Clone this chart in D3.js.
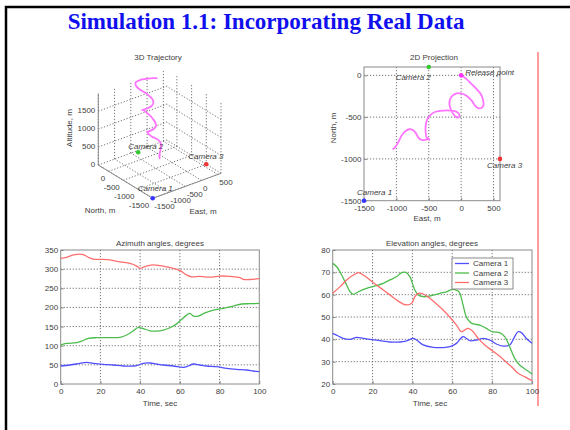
<!DOCTYPE html>
<html>
<head>
<meta charset="utf-8">
<script src="https://cdn.jsdelivr.net/npm/d3@7"></script>
<style>
  body { margin: 0; background: #fff; }
  svg { display: block; }
  text { font-family: "Liberation Sans", Arial, sans-serif; fill: #404040; }
  .grid { stroke: #505050; stroke-width: 0.8; stroke-dasharray: 1.2,1.8; fill: none; }
  .box { stroke: #8a8a8a; stroke-width: 1; fill: none; }
</style>
</head>
<body>
<div id="slide"></div>
<script>

// Cameras and release point (East / North in metres, altitude in metres)
const cameraNames = ["Camera 1", "Camera 2", "Camera 3"];
const cameraEast = [-1500, -500, 600];
const cameraNorth = [-1500, 100, -1000];
const cameraAlt = [0, 150, 0];
const cameraColors = ["#3535ff", "#35c835", "#ee3535"];
const releaseEast = 0;
const releaseNorth = 0;

const trackEast = [0, 88, 166, 243, 305, 336, 347, 321, 269, 217,
    166, 88, 10, -67, -129, -171, -181, -160, -119, -78,
    -41, -26, -52, -119, -222, -326, -404, -481, -522, -548,
    -548, -533, -491, -505, -540, -610, -662, -698, -740, -802,
    -869, -921, -973, -1024, -1060];
const trackNorth = [0, -48, -107, -167, -227, -287, -346, -386, -394, -366,
    -306, -247, -219, -215, -239, -287, -346, -406, -466, -497,
    -505, -478, -446, -426, -418, -426, -438, -478, -525, -605,
    -684, -744, -772, -755, -770, -772, -744, -692, -657, -645,
    -673, -724, -804, -864, -883];
const trackAlt = [2100, 2070, 2040, 2010, 1980, 1950, 1930, 1905, 1860, 1810,
    1755, 1700, 1655, 1620, 1590, 1560, 1530, 1490, 1455, 1425,
    1400, 1385, 1365, 1330, 1295, 1260, 1225, 1195, 1180, 1165,
    1145, 1130, 1110, 1100, 1085, 1065, 1035, 1005, 975, 940,
    897, 850, 780, 715, 670];

// Azimuth angles [time s, degrees]
const azimuthCam1 = [[0,47],[4.7,49.6],[9.7,54],[13.1,56.6],[16.4,54],[21.5,51.3],[26.5,49.6],[31.5,47],
    [36.6,47],[39.1,49.6],[41.6,54],[45,54.8],[48.3,52.2],[51.7,49.6],[56.7,47],[61.8,43.5],[64.3,47],
    [66.8,52.2],[70.1,49.6],[73.5,47],[78.5,45.3],[83.6,40.9],[88.6,38.3],[93.6,36.6],[97,34],[100,32.2]];
const azimuthCam2 = [[0,101.8],[3,106],[8.1,108],[10.6,112],[13.9,119],[18.1,121],[24.8,121],[29.9,122],
    [33.2,128],[36.6,139],[39.1,148],[41.6,144.5],[45,139],[48.3,138],[51.7,141],[55,147],[58.4,157],
    [60.9,169],[63.4,180],[65.1,184.5],[66.8,177.5],[69.3,177.5],[72.7,186],[76.9,193],[81.9,197.5],
    [86.9,203.6],[91.1,209],[95.3,209.7],[100,210.6]];
const azimuthCam3 = [[0,328],[3,331],[6.4,337],[9.7,339],[11.4,338],[13.9,331],[16.4,326],[20.6,325.5],
    [24.8,324],[29.9,319],[34.9,315],[38.3,308],[40,302],[41.6,305],[44.1,309],[46.6,311],[50,309],
    [53.4,306],[56.7,302],[60.1,296],[63.4,285],[65.9,280],[70.1,281],[75.2,279],[80.2,282],[85.2,281],
    [90.3,278],[92,273],[95.3,273],[100,275]];

// Elevation angles [time s, degrees]
const elevationCam1 = [[0,42.7],[2.8,41.5],[5.3,40.4],[8.7,40],[12,40.9],[15.4,40.4],[18.7,40],[23.7,39.4],
    [28.7,38.8],[33.7,38.8],[37.1,39.3],[40.4,40.4],[42.1,39.7],[45.4,37.5],[50.4,36.4],[55.4,36.3],
    [58.8,36.7],[62.1,38.2],[65.4,41.2],[68.8,39.4],[72.1,39.7],[75.5,40.4],[78.8,39.7],[82.1,37.9],
    [85.5,37],[88.8,37.5],[91.3,41.2],[93,43.4],[94.7,43],[97.2,40.4],[100,38.2]];
const elevationCam2 = [[0,74],[2,72.5],[4.5,68.8],[7,64.3],[8.7,61.3],[10.4,60.1],[12.9,61.3],[17,62.8],
    [21.2,63.9],[25.4,65.1],[28.7,66.6],[32.1,68.1],[34.6,69.9],[36.7,70],[38.7,68.1],[41.2,62.1],
    [42.9,59.9],[45.4,59.1],[48.7,59.4],[53.8,60.6],[57.1,61.3],[60.4,62.4],[62.9,61.6],[63.8,60.6],
    [65.4,55.4],[67.1,49.9],[68.8,47.9],[70.5,46.9],[73.8,46.4],[77.1,44.9],[80,43.4],[83.8,43],
    [86.3,41.2],[88.8,36.7],[91.3,31.5],[93.8,28.5],[97.2,26.3],[100,24.5]];
const elevationCam3 = [[0,60.6],[3.7,63.6],[7,66.6],[10.4,68.8],[12.9,69.9],[15.4,68.8],[18.7,66.6],
    [22,64.3],[25.4,62.1],[28.7,59.9],[32.1,57.6],[35.4,55.8],[37.1,55.4],[39.6,56.1],[41.2,59.1],
    [42.9,60.6],[45.4,60.3],[48.7,58.4],[52.1,55.8],[55.4,53.1],[58.8,49.9],[62.1,46.4],[64.6,43.4],
    [66.3,44.2],[67.9,44.9],[70.5,43.4],[73,40.4],[76.3,37.5],[79.6,35.2],[83,33],[86.3,30.4],
    [89.6,27.8],[93,24.8],[96.3,23.3],[100,21.5]];

// Tick values
const timeTicks = [0, 20, 40, 60, 80, 100];
const azimuthTicks = [0, 50, 100, 150, 200, 250, 300, 350];
const elevationTicks = [20, 30, 40, 50, 60, 70, 80];
const eastTicks = [-1500, -1000, -500, 0, 500];
const northTicks = [-1500, -1000, -500, 0];
const altTicks = [0, 500, 1000, 1500];

const lineColors = ["#5050ff", "#4cbc4c", "#ff6e6e"];

const svg = d3.select("#slide")
    .append("svg")
    .attr("width", 570)
    .attr("height", 430);

// Slide frame and the red margin line
svg.append("path")
    .attr("d", "M6,440 V7 H580")
    .attr("fill", "none")
    .attr("stroke", "#000")
    .attr("stroke-width", 2.5);

svg.append("line")
    .attr("x1", 538).attr("x2", 538)
    .attr("y1", 52).attr("y2", 406)
    .attr("stroke", "#ff7a7a")
    .attr("stroke-width", 1.5);

svg.append("text")
    .attr("x", 266)
    .attr("y", 29)
    .attr("text-anchor", "middle")
    .style("font-family", "'Liberation Serif', 'Times New Roman', serif")
    .style("font-weight", "bold")
    .style("font-size", "23px")
    .style("fill", "#1010ee")
    .text("Simulation 1.1: Incorporating Real Data");

// Draw a MATLAB-style 2D axes box with dotted grid
function drawPanel(x, y, xTicks, yTicks) {
    const g = svg.append("g");
    const [left, right] = x.range();
    const [bottom, top] = y.range();

    g.selectAll(".vgrid")
        .data(xTicks.filter(t => x(t) > left + 1 && x(t) < right - 1))
        .join("line")
        .attr("class", "grid")
        .attr("x1", d => x(d)).attr("x2", d => x(d))
        .attr("y1", top).attr("y2", bottom);

    g.selectAll(".hgrid")
        .data(yTicks.filter(t => y(t) < bottom - 1 && y(t) > top + 1))
        .join("line")
        .attr("class", "grid")
        .attr("x1", left).attr("x2", right)
        .attr("y1", d => y(d)).attr("y2", d => y(d));

    g.append("rect")
        .attr("class", "box")
        .attr("x", left).attr("y", top)
        .attr("width", right - left).attr("height", bottom - top);

    // Axes with inward ticks, plain hyphen minus signs
    const xAxis = g.append("g")
        .attr("transform", `translate(0,${bottom})`)
        .call(d3.axisBottom(x).tickValues(xTicks).tickSize(-3).tickPadding(4.5).tickFormat(d => String(d)));
    const yAxis = g.append("g")
        .attr("transform", `translate(${left},0)`)
        .call(d3.axisLeft(y).tickValues(yTicks).tickSize(-3).tickPadding(2.5).tickFormat(d => String(d)));

    [xAxis, yAxis].forEach(a => {
        a.attr("font-size", 8).attr("font-family", null);
        a.select(".domain").remove();
        a.selectAll("line").attr("stroke", "#8a8a8a");
        a.selectAll("text").attr("fill", "#404040");
    });
    return g;
}

function label(x, y, txt, opts = {}) {
    const t = svg.append("text")
        .attr("x", x).attr("y", y)
        .attr("text-anchor", opts.anchor || "middle")
        .style("font-size", (opts.size || 8) + "px")
        .text(txt);
    if (opts.italic) t.style("font-style", "italic");
    if (opts.rotate) t.attr("transform", `rotate(-90,${x},${y})`);
    return t;
}

// ---------- 3D Trajectory ----------
const north3 = d3.scaleLinear().domain([-1500, 350]).range([0, 1]);
const east3 = d3.scaleLinear().domain([-1500, 600]).range([0, 1]);
const alt3 = d3.scaleLinear().domain([0, 2000]).range([0, 71.7]);
const corner3 = [152.7, 198.3];    // (north min, east min) on the ground
const northVec = [-54.4, -33.3];   // full north range on screen
const eastVec = [68.3, -25];       // full east range on screen

function project(n, e, z) {
    const a = north3(n), b = east3(e);
    return [corner3[0] + a * northVec[0] + b * eastVec[0],
            corner3[1] + a * northVec[1] + b * eastVec[1] - alt3(z)];
}

const nMin = north3.domain()[0], nMax = north3.domain()[1];
const eMin = east3.domain()[0], eMax = east3.domain()[1];
const zMax = alt3.domain()[1];

const seg3 = [];
// back wall at north max
eastTicks.forEach(e => seg3.push([[nMax, e, 0], [nMax, e, zMax]]));
altTicks.forEach(z => seg3.push([[nMax, eMin, z], [nMax, eMax, z]]));
// back wall at east max
northTicks.forEach(n => seg3.push([[n, eMax, 0], [n, eMax, zMax]]));
altTicks.forEach(z => seg3.push([[nMin, eMax, z], [nMax, eMax, z]]));
// floor
eastTicks.forEach(e => seg3.push([[nMin, e, 0], [nMax, e, 0]]));
northTicks.forEach(n => seg3.push([[n, eMin, 0], [n, eMax, 0]]));

svg.append("g").selectAll("line")
    .data(seg3)
    .join("line")
    .attr("class", "grid")
    .attr("x1", d => project(...d[0])[0]).attr("y1", d => project(...d[0])[1])
    .attr("x2", d => project(...d[1])[0]).attr("y2", d => project(...d[1])[1]);

const axes3 = [[[nMin, eMin, 0], [nMax, eMin, 0]],
               [[nMin, eMin, 0], [nMin, eMax, 0]],
               [[nMax, eMin, 0], [nMax, eMin, zMax]]];
svg.append("g").selectAll("line")
    .data(axes3)
    .join("line")
    .attr("class", "box")
    .attr("x1", d => project(...d[0])[0]).attr("y1", d => project(...d[0])[1])
    .attr("x2", d => project(...d[1])[0]).attr("y2", d => project(...d[1])[1]);

altTicks.forEach(z => {
    const p = project(nMax, eMin, z);
    label(p[0] - 3, p[1] + 1.5, String(z), { anchor: "end" });
});
northTicks.forEach(n => {
    const p = project(n, eMin, 0);
    label(p[0] - 3.5, p[1] + 9.5, String(n), { anchor: "end" });
});
eastTicks.forEach(e => {
    const p = project(nMin, e, 0);
    label(p[0] + 1.5, p[1] + 10.5, String(e), { anchor: "start" });
});

label(158, 60, "3D Trajectory");
label(100, 213, "North, m");
label(203, 214, "East, m");
label(72, 128, "Altitude, m", { rotate: true });

// The original 3D panel plots the track with its two horizontal axes swapped
const track3 = trackEast.map((e, i) => project(e, trackNorth[i], trackAlt[i]));
svg.append("path")
    .datum(track3)
    .attr("fill", "none")
    .attr("stroke", "#ff74ff")
    .attr("stroke-width", 1.8)
    .attr("d", d3.line().curve(d3.curveCatmullRom.alpha(0.5)));

const cam3 = cameraNames.map((name, i) => project(cameraNorth[i], cameraEast[i], cameraAlt[i]));
svg.append("g").selectAll("circle")
    .data(cam3)
    .join("circle")
    .attr("cx", d => d[0]).attr("cy", d => d[1])
    .attr("r", 2.3)
    .attr("fill", (d, i) => cameraColors[i]);
const camLabel3 = [[-15, -7], [-10, -3.5], [-18, -5]];
cam3.forEach((p, i) => label(p[0] + camLabel3[i][0], p[1] + camLabel3[i][1], cameraNames[i], { anchor: "start", italic: true }));

// ---------- 2D Projection ----------
const xProj = d3.scaleLinear().domain([-1500, 600]).range([364, 500]);
const yProj = d3.scaleLinear().domain([-1500, 100]).range([200.7, 67]);
drawPanel(xProj, yProj, eastTicks, northTicks);
label(434, 60, "2D Projection");
label(427, 221, "East, m");
label(336, 128, "North, m", { rotate: true });

svg.append("path")
    .datum(trackEast.map((e, i) => [xProj(e), yProj(trackNorth[i])]))
    .attr("fill", "none")
    .attr("stroke", "#ff74ff")
    .attr("stroke-width", 1.8)
    .attr("d", d3.line().curve(d3.curveCatmullRom.alpha(0.5)));

svg.append("g").selectAll("circle")
    .data(cameraNames)
    .join("circle")
    .attr("cx", (d, i) => xProj(cameraEast[i]))
    .attr("cy", (d, i) => yProj(cameraNorth[i]))
    .attr("r", 2.3)
    .attr("fill", (d, i) => cameraColors[i]);
svg.append("circle")
    .attr("cx", xProj(releaseEast)).attr("cy", yProj(releaseNorth))
    .attr("r", 2.3).attr("fill", "#ff35ff");

const camLabel2 = [[-7, -6, "start"], [2, 13, "end"], [-13, 9, "start"]];
cameraNames.forEach((name, i) => {
    label(xProj(cameraEast[i]) + camLabel2[i][0], yProj(cameraNorth[i]) + camLabel2[i][1], name,
        { anchor: camLabel2[i][2], italic: true });
});
label(xProj(releaseEast) + 4, yProj(releaseNorth) - 0.5, "Release point", { anchor: "start", italic: true });

// ---------- Azimuth angles ----------
const xAz = d3.scaleLinear().domain([0, 100]).range([60.7, 259.3]);
const yAz = d3.scaleLinear().domain([0, 350]).range([384, 250]);
drawPanel(xAz, yAz, timeTicks, azimuthTicks);
label(160, 246, "Azimuth angles, degrees");
label(160, 406, "Time, sec");

const azLine = d3.line().x(d => xAz(d[0])).y(d => yAz(d[1])).curve(d3.curveCatmullRom.alpha(0.5));
[azimuthCam1, azimuthCam2, azimuthCam3].forEach((s, i) => {
    svg.append("path")
        .datum(s)
        .attr("fill", "none")
        .attr("stroke", lineColors[i])
        .attr("stroke-width", 1.3)
        .attr("d", azLine);
});

// ---------- Elevation angles ----------
const xEl = d3.scaleLinear().domain([0, 100]).range([332.7, 532]);
const yEl = d3.scaleLinear().domain([20, 80]).range([384, 250]);
drawPanel(xEl, yEl, timeTicks, elevationTicks);
label(432, 246, "Elevation angles, degrees");
label(430, 406, "Time, sec");

const elLine = d3.line().x(d => xEl(d[0])).y(d => yEl(d[1])).curve(d3.curveCatmullRom.alpha(0.5));
[elevationCam1, elevationCam2, elevationCam3].forEach((s, i) => {
    svg.append("path")
        .datum(s)
        .attr("fill", "none")
        .attr("stroke", lineColors[i])
        .attr("stroke-width", 1.3)
        .attr("d", elLine);
});

// Legend
const legend = svg.append("g").attr("transform", "translate(452,258)");
legend.append("rect")
    .attr("width", 61).attr("height", 31)
    .attr("fill", "#fff")
    .attr("stroke", "#8a8a8a");
cameraNames.forEach((name, i) => {
    const ly = 5.5 + i * 9.5;
    legend.append("line")
        .attr("x1", 3).attr("x2", 17)
        .attr("y1", ly).attr("y2", ly)
        .attr("stroke", lineColors[i])
        .attr("stroke-width", 1.3);
    legend.append("text")
        .attr("x", 21).attr("y", ly + 2.8)
        .style("font-size", "8px")
        .text(name);
});
</script>
</body>
</html>
